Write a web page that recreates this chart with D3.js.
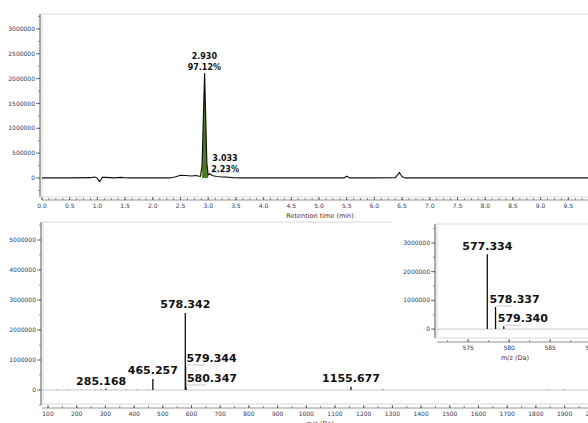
<!DOCTYPE html>
<html>
<head>
<meta charset="utf-8">
<script src="https://cdn.jsdelivr.net/npm/d3@7"></script>
<style>
  body { margin: 0; background: #fff; }
  svg { display: block; }
  .tick-label { font-family: "DejaVu Sans", Verdana, sans-serif; font-size: 6px; fill: #33395a; }
  .axis-title { font-family: "DejaVu Sans", Verdana, sans-serif; font-size: 6.5px; fill: #5a2a2a; }
  .peak-label { font-family: "DejaVu Sans", Verdana, sans-serif; font-weight: bold; fill: #111; }
</style>
</head>
<body>
<div id="chart"></div>
<script>
// Chromatogram trace (retention time in min, intensity)
const chromTime = [0.0, 0.5, 0.88, 0.94, 0.99, 1.04, 1.09, 1.15, 1.3, 1.42, 1.48, 1.6, 2.0, 2.3, 2.4, 2.5, 2.6, 2.7, 2.78, 2.86, 2.89, 2.935, 2.975, 3.0, 3.03, 3.07, 3.15, 3.25, 3.35, 3.45, 3.6, 4.0, 4.5, 5.0, 5.45, 5.5, 5.56, 6.0, 6.38, 6.45, 6.5, 6.56, 7.0, 8.0, 9.0, 10.0];
const chromIntensity = [0, 0, 5000, 20000, 5000, -75000, 15000, 10000, 0, 10000, 5000, 0, 0, 0, 20000, 55000, 50000, 40000, 50000, 30000, 250000, 2100000, 300000, 60000, 85000, 50000, 30000, 20000, 15000, 5000, 0, 0, 0, 0, 0, 35000, 0, 0, 5000, 110000, 25000, 0, 0, 0, 0, 0];
const peakRange = [2.88, 3.0];
const chromPeaks = [
  {time: 2.930, intensity: 2100000, name: "2.930", pct: "97.12%"},
  {time: 3.033, intensity: 85000, name: "3.033", pct: "2.23%"}
];

// Mass spectrum (m/z, intensity)
const specMz = [130, 172, 215, 262, 285.168, 302, 335, 372, 410, 445, 465.257, 578.342, 579.344, 580.347, 1155.677, 1267, 1845, 1900];
const specIntensity = [8000, 6000, 9000, 7000, 15000, 40000, 8000, 7000, 9000, 12000, 370000, 2570000, 770000, 100000, 110000, 20000, 10000, 10000];
const specLabels = ["285.168", "465.257", "578.342", "579.344", "580.347", "1155.677"];

// Zoomed isotope spectrum (inset)
const insetMz = [577.334, 578.337, 579.340];
const insetIntensity = [2610000, 770000, 100000];
const insetLabels = ["577.334", "578.337", "579.340"];

const width = 588, height = 423;
const svg = d3.select('#chart').append('svg')
  .attr('width', width).attr('height', height);

const fmtInt = d3.format('d');

function frame(x0, y0, x1, y1) {
  svg.append('rect')
    .attr('x', x0).attr('y', y0)
    .attr('width', x1 - x0).attr('height', y1 - y0)
    .attr('fill', 'none').attr('stroke', '#e6e6e6').attr('stroke-width', 1.5);
}

function yAxis(scale, x, y0, y1, major, minor, fmt) {
  const g = svg.append('g');
  g.append('line').attr('x1', x).attr('x2', x).attr('y1', y0).attr('y2', y1)
    .attr('stroke', '#555').attr('stroke-width', 1);
  g.selectAll('.minor').data(minor).enter().append('line')
    .attr('x1', x - 2).attr('x2', x)
    .attr('y1', d => scale(d)).attr('y2', d => scale(d))
    .attr('stroke', '#777').attr('stroke-width', 0.8);
  g.selectAll('.major').data(major).enter().append('line')
    .attr('x1', x - 4).attr('x2', x)
    .attr('y1', d => scale(d)).attr('y2', d => scale(d))
    .attr('stroke', '#555').attr('stroke-width', 0.8);
  g.selectAll('text').data(major).enter().append('text')
    .attr('class', 'tick-label')
    .attr('x', x - 5).attr('y', d => scale(d)).attr('dy', '0.35em')
    .attr('text-anchor', 'end')
    .text(fmt);
}

function xAxis(scale, y, x0, x1, major, minor, fmt) {
  const g = svg.append('g');
  g.append('line').attr('x1', x0).attr('x2', x1).attr('y1', y).attr('y2', y)
    .attr('stroke', '#777').attr('stroke-width', 0.8);
  g.selectAll('.minor').data(minor).enter().append('line')
    .attr('x1', d => scale(d)).attr('x2', d => scale(d))
    .attr('y1', y).attr('y2', y - 2)
    .attr('stroke', '#666').attr('stroke-width', 0.8);
  g.selectAll('.major').data(major).enter().append('line')
    .attr('x1', d => scale(d)).attr('x2', d => scale(d))
    .attr('y1', y).attr('y2', y - 3)
    .attr('stroke', '#555').attr('stroke-width', 0.8);
  g.selectAll('text').data(major).enter().append('text')
    .attr('class', 'tick-label')
    .attr('x', d => scale(d)).attr('y', y + 8)
    .attr('text-anchor', 'middle')
    .text(fmt);
}

// ---------- Top: chromatogram ----------
const cx = d3.scaleLinear().domain([0, 10]).range([42, 596]);
const cy = d3.scaleLinear().domain([-383000, 3300000]).range([197, 14]);

frame(42, 14, 600, 197);
yAxis(cy, 40, 14, 197,
  d3.range(0, 3000001, 500000),
  d3.range(-250000, 3300000, 250000),
  fmtInt);
xAxis(cx, 200, 42, 600,
  d3.range(0, 10.01, 0.5),
  d3.range(0, 10.01, 0.125),
  d3.format('.1f'));

svg.append('text').attr('class', 'axis-title')
  .attr('x', 320).attr('y', 218).attr('text-anchor', 'middle')
  .text('Retention time (min)');

svg.append('clipPath').attr('id', 'clipTop')
  .append('rect').attr('x', 42).attr('y', 14).attr('width', 560).attr('height', 183);

const chromData = chromTime.map((t, i) => ({t: t, v: chromIntensity[i]}));

// integrated peak area
const areaData = chromData.filter(d => d.t >= peakRange[0] && d.t <= peakRange[1]);
svg.append('path')
  .datum(areaData)
  .attr('clip-path', 'url(#clipTop)')
  .attr('fill', '#4d7d1f')
  .attr('d', d3.area().x(d => cx(d.t)).y0(cy(0)).y1(d => cy(d.v)));

svg.append('path')
  .datum(chromData)
  .attr('clip-path', 'url(#clipTop)')
  .attr('fill', 'none')
  .attr('stroke', '#111')
  .attr('stroke-width', 1.2)
  .attr('stroke-linejoin', 'round')
  .attr('d', d3.line().x(d => cx(d.t)).y(d => cy(d.v)));

// peak annotations
const mainPk = chromPeaks[0];
svg.append('text').attr('class', 'peak-label').style('font-size', '8px')
  .attr('x', cx(mainPk.time)).attr('y', cy(mainPk.intensity) - 15)
  .attr('text-anchor', 'middle').text(mainPk.name);
svg.append('text').attr('class', 'peak-label').style('font-size', '8px')
  .attr('x', cx(mainPk.time)).attr('y', cy(mainPk.intensity) - 4)
  .attr('text-anchor', 'middle').text(mainPk.pct);

const minorPk = chromPeaks[1];
svg.append('line')
  .attr('x1', cx(minorPk.time) + 1).attr('x2', cx(minorPk.time) + 30)
  .attr('y1', cy(minorPk.intensity) - 1).attr('y2', cy(minorPk.intensity) - 1)
  .attr('stroke', '#ccc').attr('stroke-width', 0.8);
svg.append('text').attr('class', 'peak-label').style('font-size', '8px')
  .attr('x', cx(minorPk.time) + 15).attr('y', cy(minorPk.intensity) - 13)
  .attr('text-anchor', 'middle').text(minorPk.name);
svg.append('text').attr('class', 'peak-label').style('font-size', '8px')
  .attr('x', cx(minorPk.time) + 15).attr('y', cy(minorPk.intensity) - 2)
  .attr('text-anchor', 'middle').text(minorPk.pct);

// ---------- Bottom: mass spectrum ----------
const mx = d3.scaleLinear().domain([79, 2000]).range([42, 593.3]);
const my = d3.scaleLinear().domain([-500000, 5600000]).range([405, 222]);

frame(43, 222, 600, 404);
yAxis(my, 41, 222, 405,
  d3.range(0, 5000001, 1000000),
  d3.range(-500000, 5600000, 500000),
  fmtInt);
xAxis(mx, 408, 42, 600,
  d3.range(100, 2001, 100),
  d3.range(100, 2001, 50),
  fmtInt);

svg.append('text').attr('class', 'axis-title')
  .attr('x', 320).attr('y', 426).attr('text-anchor', 'middle')
  .text('m/z (Da)');

// baseline
svg.append('line')
  .attr('x1', mx(79)).attr('x2', 600).attr('y1', my(0)).attr('y2', my(0))
  .attr('stroke', '#bbb').attr('stroke-width', 0.8);

const specData = specMz.map((m, i) => ({m: m, v: specIntensity[i]}));
svg.selectAll('.spec-peak').data(specData).enter().append('line')
  .attr('class', 'spec-peak')
  .attr('x1', d => mx(d.m)).attr('x2', d => mx(d.m))
  .attr('y1', my(0)).attr('y2', d => my(d.v))
  .attr('stroke', '#111').attr('stroke-width', 1.3);

// labels: centred above peak, or left-aligned with a grey leader line
const leftAligned = {"579.344": 1, "580.347": 1};
specData.filter(d => specLabels.includes(d.m.toFixed(3))).forEach(d => {
  const key = d.m.toFixed(3);
  if (leftAligned[key] !== undefined) {
    svg.append('line')
      .attr('x1', mx(d.m) + 1).attr('x2', mx(d.m) + 20)
      .attr('y1', my(d.v) - 2).attr('y2', my(d.v) - 2)
      .attr('stroke', '#bbb').attr('stroke-width', 0.8);
    svg.append('text').attr('class', 'peak-label').style('font-size', '11px')
      .attr('x', mx(d.m) + leftAligned[key]).attr('y', my(d.v) - 5)
      .text(key);
  } else {
    svg.append('text').attr('class', 'peak-label').style('font-size', '11px')
      .attr('x', mx(d.m) - (key === '285.168' ? 0 : 0)).attr('y', my(d.v) - 5)
      .attr('text-anchor', 'middle')
      .text(key);
  }
});

// ---------- Inset: isotope pattern ----------
const ix = d3.scaleLinear().domain([571.2, 590]).range([437, 591.2]);
const iy = d3.scaleLinear().domain([-310000, 3660000]).range([338, 224]);

svg.append('rect').attr('x', 392).attr('y', 221).attr('width', 200).attr('height', 142)
  .attr('fill', '#fff');
frame(437, 224, 600, 338);
yAxis(iy, 435, 224, 338,
  d3.range(0, 3000001, 1000000),
  d3.range(-0, 3600000, 500000),
  fmtInt);
xAxis(ix, 342, 437, 600,
  d3.range(575, 591, 5),
  d3.range(572.5, 591, 2.5),
  fmtInt);

svg.append('text').attr('class', 'axis-title')
  .attr('x', 515).attr('y', 360).attr('text-anchor', 'middle')
  .text('m/z (Da)');

svg.append('line')
  .attr('x1', 437).attr('x2', 600).attr('y1', iy(0)).attr('y2', iy(0))
  .attr('stroke', '#bbb').attr('stroke-width', 0.8);

const insetData = insetMz.map((m, i) => ({m: m, v: insetIntensity[i], label: insetLabels[i]}));
svg.selectAll('.inset-peak').data(insetData).enter().append('line')
  .attr('class', 'inset-peak')
  .attr('x1', d => ix(d.m)).attr('x2', d => ix(d.m))
  .attr('y1', iy(0)).attr('y2', d => iy(d.v))
  .attr('stroke', '#111').attr('stroke-width', 1.3);

insetData.forEach((d, i) => {
  if (i === 0) {
    svg.append('text').attr('class', 'peak-label').style('font-size', '11px')
      .attr('x', ix(d.m)).attr('y', iy(d.v) - 4)
      .attr('text-anchor', 'middle').text(d.label);
  } else {
    svg.append('line')
      .attr('x1', ix(d.m) + 1).attr('x2', ix(d.m) + 17)
      .attr('y1', iy(d.v) - 1).attr('y2', iy(d.v) - 1)
      .attr('stroke', '#bbb').attr('stroke-width', 0.8);
    svg.append('text').attr('class', 'peak-label').style('font-size', '11px')
      .attr('x', ix(d.m) - 6).attr('y', iy(d.v) - 4)
      .text(d.label);
  }
});
</script>
</body>
</html>
